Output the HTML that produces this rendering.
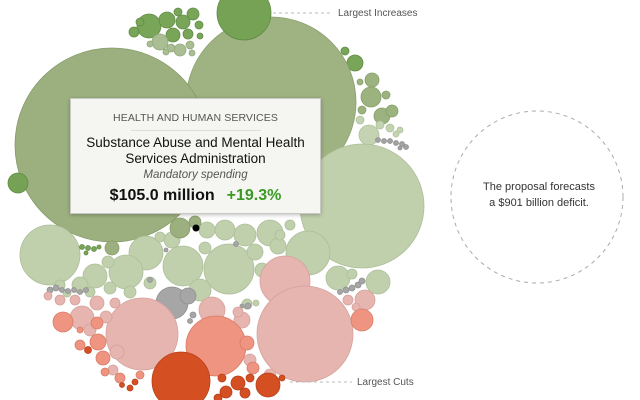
<!DOCTYPE html>
<html><head><meta charset="utf-8"><style>
html,body{margin:0;padding:0;background:#fff;}
body{width:640px;height:400px;position:relative;overflow:hidden;font-family:"Liberation Sans",sans-serif;}
svg{position:absolute;left:0;top:0;}
.tip{position:absolute;left:70px;top:98px;width:251px;height:116px;background:#f5f5f2;border:1px solid #c8c8c4;box-shadow:0 1px 4px rgba(0,0,0,0.25);box-sizing:border-box;text-align:center;}
.h{font-size:10.5px;color:#555;margin-top:13px;letter-spacing:0.1px;}
.sep{width:130px;height:1px;background:#ddd;margin:6px auto 4px;}
.t{font-size:13.5px;color:#111;line-height:16px;}
.m{font-size:11.5px;color:#555;font-style:italic;margin-top:2px;}
.v{font-size:16px;font-weight:bold;margin-top:6px;color:#111;}
.v span{color:#3a9a22;margin-left:12px;}
</style></head><body>
<svg width="640" height="400">
<g stroke-width="0.8">
<g fill="#79a558" stroke="#628c45">
<circle cx="149" cy="26" r="12"/><circle cx="167" cy="20" r="8"/><circle cx="183" cy="22" r="7"/><circle cx="193" cy="14" r="6"/><circle cx="134" cy="32" r="5"/><circle cx="173" cy="35" r="7"/><circle cx="188" cy="34" r="5"/><circle cx="160" cy="40" r="5"/><circle cx="199" cy="25" r="4"/><circle cx="200" cy="36" r="3"/><circle cx="140" cy="22" r="4"/><circle cx="178" cy="12" r="4"/>
</g>
<g fill="#a9be92" stroke="#93a87c">
<circle cx="160" cy="42" r="8"/><circle cx="180" cy="50" r="6"/><circle cx="190" cy="45" r="4"/><circle cx="171" cy="48" r="4"/><circle cx="150" cy="44" r="3"/><circle cx="192" cy="53" r="3"/><circle cx="166" cy="52" r="3"/>
</g>
<g fill="#79a558" stroke="#628c45"><circle cx="355" cy="63" r="8"/><circle cx="345" cy="51" r="4"/></g>
<g fill="#9cb37f" stroke="#86a06b"><circle cx="372" cy="80" r="7"/><circle cx="371" cy="97" r="10"/><circle cx="382" cy="116" r="8"/><circle cx="392" cy="111" r="6"/><circle cx="386" cy="95" r="4"/><circle cx="360" cy="82" r="3"/><circle cx="362" cy="110" r="4"/></g>
<g fill="#c4d4b2" stroke="#afc19c"><circle cx="369" cy="135" r="10"/><circle cx="380" cy="125" r="4"/><circle cx="390" cy="128" r="4"/><circle cx="396" cy="134" r="3"/><circle cx="400" cy="130" r="3"/><circle cx="360" cy="120" r="4"/></g>
<g fill="#a2a2a2" stroke="#909090"><circle cx="384" cy="141" r="2.5"/><circle cx="390" cy="141" r="2.5"/><circle cx="396" cy="143" r="2.5"/><circle cx="402" cy="144" r="2.5"/><circle cx="406" cy="147" r="2.5"/><circle cx="378" cy="140" r="2.5"/><circle cx="400" cy="148" r="2"/></g>
<circle cx="271" cy="102" r="85" fill="#9fb282" stroke="#8aa06e"/>
<circle cx="112" cy="145" r="97" fill="#9cb07f" stroke="#879c6a"/>
<circle cx="244" cy="13" r="27" fill="#76a255" stroke="#5f8b43"/>
<circle cx="18" cy="183" r="10" fill="#76a255" stroke="#5f8b43"/>
<circle cx="362" cy="206" r="62" fill="#c0d0ad" stroke="#acbe98"/>
<g fill="#c0d0ad" stroke="#acbe98">
<circle cx="50" cy="255" r="30"/><circle cx="308" cy="253" r="22"/><circle cx="229" cy="269" r="25"/><circle cx="183" cy="266" r="20"/><circle cx="146" cy="253" r="17"/><circle cx="126" cy="272" r="17"/><circle cx="95" cy="276" r="12"/><circle cx="80" cy="285" r="8"/><circle cx="270" cy="233" r="13"/><circle cx="245" cy="235" r="11"/><circle cx="225" cy="230" r="10"/><circle cx="207" cy="230" r="8"/><circle cx="255" cy="252" r="8"/><circle cx="262" cy="270" r="7"/><circle cx="278" cy="246" r="8"/><circle cx="200" cy="290" r="11"/><circle cx="172" cy="240" r="8"/><circle cx="160" cy="237" r="5"/><circle cx="110" cy="288" r="6"/><circle cx="130" cy="292" r="6"/><circle cx="90" cy="292" r="5"/><circle cx="270" cy="285" r="6"/><circle cx="280" cy="235" r="5"/><circle cx="338" cy="278" r="12"/><circle cx="378" cy="282" r="12"/><circle cx="352" cy="274" r="5"/><circle cx="150" cy="283" r="6"/><circle cx="247" cy="304" r="5"/><circle cx="256" cy="303" r="3"/><circle cx="60" cy="285" r="5"/><circle cx="67" cy="293" r="4"/><circle cx="108" cy="262" r="6"/><circle cx="205" cy="248" r="6"/><circle cx="290" cy="225" r="5"/>
</g>
<g fill="#9cb07f" stroke="#879c6a"><circle cx="180" cy="228" r="10"/><circle cx="112" cy="248" r="7"/><circle cx="195" cy="222" r="6"/></g>
<g fill="#79a558" stroke="#628c45"><circle cx="82" cy="247" r="2.5"/><circle cx="88" cy="248" r="2.5"/><circle cx="94" cy="249" r="2.5"/><circle cx="99" cy="247" r="2"/><circle cx="86" cy="253" r="2"/></g>
<g fill="#a6a6a6" stroke="#909090">
<circle cx="172" cy="303" r="16"/><circle cx="188" cy="296" r="8"/>
<circle cx="56" cy="288" r="3"/><circle cx="62" cy="290" r="2.5"/><circle cx="68" cy="291" r="2.5"/><circle cx="74" cy="290" r="2.5"/><circle cx="80" cy="292" r="2.5"/><circle cx="86" cy="290" r="2.5"/><circle cx="50" cy="290" r="3"/>
<circle cx="346" cy="290" r="3"/><circle cx="352" cy="288" r="3"/><circle cx="358" cy="285" r="3"/><circle cx="362" cy="281" r="3"/><circle cx="340" cy="292" r="2.5"/><circle cx="150" cy="280" r="2.5"/><circle cx="248" cy="306" r="3"/><circle cx="242" cy="306" r="2"/><circle cx="193" cy="315" r="3"/><circle cx="190" cy="321" r="2.5"/><circle cx="236" cy="244" r="2.5"/><circle cx="166" cy="250" r="2"/>
</g>
<g fill="#e6b5b0" stroke="#d6a19c">
<circle cx="285" cy="281" r="25"/><circle cx="305" cy="334" r="48"/><circle cx="142" cy="334" r="36"/><circle cx="212" cy="310" r="13"/><circle cx="82" cy="318" r="12"/><circle cx="97" cy="303" r="7"/><circle cx="60" cy="300" r="5"/><circle cx="75" cy="300" r="5"/><circle cx="106" cy="317" r="6"/><circle cx="115" cy="303" r="5"/><circle cx="48" cy="296" r="4"/><circle cx="365" cy="300" r="10"/><circle cx="348" cy="300" r="5"/><circle cx="356" cy="307" r="4"/><circle cx="242" cy="320" r="8"/><circle cx="238" cy="312" r="5"/><circle cx="90" cy="330" r="6"/><circle cx="117" cy="352" r="7"/><circle cx="250" cy="360" r="6"/><circle cx="270" cy="375" r="6"/><circle cx="113" cy="370" r="5"/>
</g>
<g fill="#ee9480" stroke="#d97c68">
<circle cx="216" cy="346" r="30"/><circle cx="63" cy="322" r="10"/><circle cx="97" cy="323" r="6"/><circle cx="98" cy="342" r="8"/><circle cx="103" cy="358" r="7"/><circle cx="80" cy="345" r="5"/><circle cx="362" cy="320" r="11"/><circle cx="247" cy="343" r="7"/><circle cx="253" cy="368" r="6"/><circle cx="120" cy="378" r="5"/><circle cx="105" cy="372" r="4"/><circle cx="80" cy="330" r="3"/><circle cx="140" cy="375" r="4"/>
</g>
<g fill="#d44f22" stroke="#b8401a">
<circle cx="181" cy="381" r="29"/><circle cx="268" cy="385" r="12"/><circle cx="238" cy="383" r="7"/><circle cx="226" cy="392" r="6"/><circle cx="245" cy="393" r="5"/><circle cx="250" cy="378" r="4"/><circle cx="222" cy="378" r="4"/><circle cx="88" cy="350" r="3.5"/><circle cx="135" cy="382" r="3"/><circle cx="130" cy="388" r="3"/><circle cx="122" cy="385" r="2.5"/><circle cx="282" cy="378" r="3"/><circle cx="218" cy="398" r="4"/>
</g>
</g>
<line x1="273" y1="13" x2="333" y2="13" stroke="#bbb" stroke-dasharray="3,3"/>
<text x="338" y="16" font-size="10" fill="#555" font-family="Liberation Sans,sans-serif">Largest Increases</text>
<line x1="290" y1="382" x2="352" y2="382" stroke="#bbb" stroke-dasharray="3,3"/>
<text x="357" y="385" font-size="10" fill="#555" font-family="Liberation Sans,sans-serif">Largest Cuts</text>
<circle cx="537" cy="197" r="86" fill="none" stroke="#aaa" stroke-dasharray="4,4"/>
<text x="539" y="190" font-size="11" fill="#333" text-anchor="middle" font-family="Liberation Sans,sans-serif">The proposal forecasts</text>
<text x="539" y="206" font-size="11" fill="#333" text-anchor="middle" font-family="Liberation Sans,sans-serif">a $901 billion deficit.</text>
<circle cx="196" cy="228" r="3.5" fill="#000"/>
</svg>
<div class="tip">
<div class="h">HEALTH AND HUMAN SERVICES</div>
<div class="sep"></div>
<div class="t">Substance Abuse and Mental Health<br>Services Administration</div>
<div class="m">Mandatory spending</div>
<div class="v">$105.0 million<span>+19.3%</span></div>
</div>
</body></html>
